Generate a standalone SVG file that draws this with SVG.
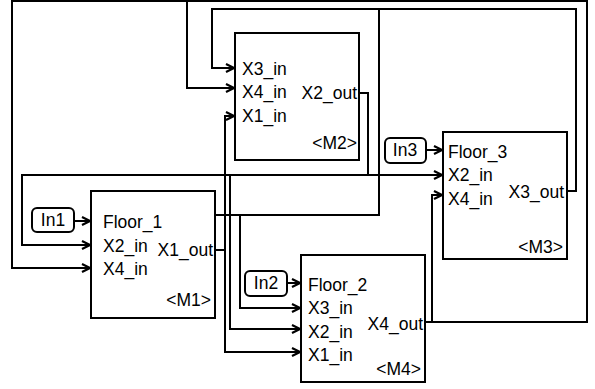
<svg xmlns="http://www.w3.org/2000/svg" width="595" height="389" viewBox="0 0 595 389">
<defs>
<marker id="ah" viewBox="0 0 10 10" refX="9" refY="5" markerWidth="10" markerHeight="10" markerUnits="userSpaceOnUse" orient="auto"><path d="M1,1 L9,5 L1,9" fill="none" stroke="#000" stroke-width="2.2"/></marker>
<style>
.box{fill:#fff;stroke:#000;stroke-width:2}
.pill{fill:#fff;stroke:#000;stroke-width:2}
.w{fill:none;stroke:#000;stroke-width:2}
.a{marker-end:url(#ah)}
text{font-family:"Liberation Sans",Arial,sans-serif;font-size:17.5px;fill:#000}
.e{text-anchor:end}
.c{text-anchor:middle}
</style>
</defs>
<rect width="595" height="389" fill="#fff"/>
<g id="connectors">
<path class="w" d="M215,250 H225"/>
<path class="w a" d="M225,250 V116 H234"/>
<path class="w a" d="M225,250 V352 H300"/>
<path class="w" d="M359,93 H368 V175"/>
<path class="w a" d="M368,175 H442"/>
<path class="w a" d="M368,175 H22 V245 H90"/>
<path class="w a" d="M230,175 V329 H300"/>
<path class="w a" d="M567,191 H576 V9 H212 V68 H234"/>
<path class="w" d="M379,9 V215 H215"/>
<path class="w a" d="M240,215 V308 H300"/>
<path class="w a" d="M425,322 H432 V195 H442"/>
<path class="w a" d="M432,322 H587 V1 H12 V268 H90"/>
<path class="w a" d="M187,1 V88 H234"/>
<path class="w a" d="M74,221 H90"/>
<path class="w a" d="M287,283 H300"/>
<path class="w a" d="M426,150 H442"/>
</g>
<g id="M2">
<rect class="box" x="235" y="33" width="124" height="127"/>
<text x="242" y="75">X3_in</text>
<text x="242" y="98">X4_in</text>
<text x="242" y="122">X1_in</text>
<text class="e" x="357" y="99">X2_out</text>
<text class="e" x="357" y="149">&lt;M2&gt;</text>
</g>
<g id="M1">
<rect class="box" x="91" y="191" width="124" height="127"/>
<text x="103" y="228">Floor_1</text>
<text x="103" y="252">X2_in</text>
<text x="103" y="275">X4_in</text>
<text class="e" x="213" y="256">X1_out</text>
<text class="e" x="211" y="306">&lt;M1&gt;</text>
</g>
<g id="M4">
<rect class="box" x="301" y="255" width="124" height="127"/>
<text x="308" y="291">Floor_2</text>
<text x="308" y="314">X3_in</text>
<text x="308" y="338">X2_in</text>
<text x="308" y="361">X1_in</text>
<text class="e" x="423" y="330">X4_out</text>
<text class="e" x="421" y="375">&lt;M4&gt;</text>
</g>
<g id="M3">
<rect class="box" x="443" y="132" width="124" height="127"/>
<text x="448" y="158">Floor_3</text>
<text x="448" y="181">X2_in</text>
<text x="448" y="205">X4_in</text>
<text class="e" x="564" y="198">X3_out</text>
<text class="e" x="563" y="253">&lt;M3&gt;</text>
</g>
<g id="In1">
<rect class="pill" x="32" y="208" width="42" height="24" rx="5"/>
<text class="c" x="53" y="226">In1</text>
</g>
<g id="In2">
<rect class="pill" x="245" y="271" width="42" height="25" rx="5"/>
<text class="c" x="266" y="289">In2</text>
</g>
<g id="In3">
<rect class="pill" x="385" y="138" width="41" height="25" rx="5"/>
<text class="c" x="405" y="156">In3</text>
</g>
</svg>
